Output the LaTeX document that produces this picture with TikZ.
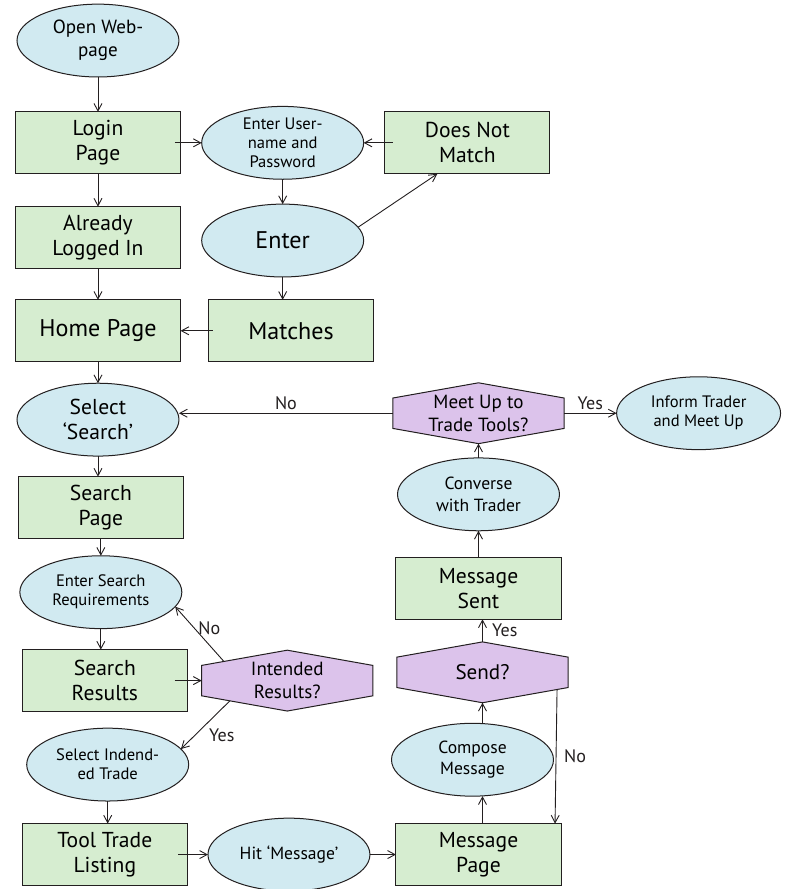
\documentclass[tikz,border=0pt]{standalone}
\usepackage{fontspec}
\setmainfont{PT Sans}
\usetikzlibrary{arrows.meta,positioning,shapes.geometric,backgrounds,calc}
\definecolor{ovalblue}{RGB}{209,234,241}
\definecolor{boxgreen}{RGB}{214,237,208}
\definecolor{hexpurple}{RGB}{220,195,235}
\definecolor{ink}{RGB}{35,31,32}

\begin{document}
\begin{tikzpicture}[
  node distance=0.75cm and 0.75cm,
  box/.style={
    rectangle, draw=ink, line width=1pt, fill=boxgreen, outer sep=0pt,
    minimum width=5.78cm, minimum height=2.17cm,
    align=center, font=\fontsize{21.5}{25}\selectfont
  },
  oval/.style={
    ellipse, draw=ink, line width=1pt, fill=ovalblue, outer sep=0pt,
    minimum width=5.67cm, minimum height=2.55cm, inner sep=0pt,
    align=center, font=\fontsize{16.5}{19}\selectfont
  },
  decision/.style={
    rectangle, outer sep=0pt, minimum width=5.99cm, minimum height=2.13cm,
    align=center, font=\fontsize{19}{23}\selectfont
  },
  hexa/.style={draw=ink, line width=1pt, fill=hexpurple},
  arrow/.style={-{Straight Barb[length=2.6mm,width=2.8mm]}, line width=0.9pt, draw=ink},
  answer/.style={font=\fontsize{18}{20}\selectfont, text=ink}
]

\useasboundingbox (-3.43,1.42) rectangle (24.15,-29.70);

% Left column: login and search
\node[oval, font=\fontsize{19}{23}\selectfont] (open) {Open Web-\\page};
\node[box, below=1.22cm of open] (login) {Login\\Page};
\node[box, below=1.15cm of login] (already) {Already\\Logged In};
\node[box, below=1.09cm of already, font=\fontsize{24}{28}\selectfont] (home) {Home Page};
\node[oval, below=0.75cm of home, font=\fontsize{21.5}{25}\selectfont] (selsearch) {Select\\`Search'};
\node[box, below=0.72cm of selsearch, xshift=0.1cm] (searchpage) {Search\\Page};
\node[oval, below=0.6cm of searchpage] (enterreq) {Enter Search\\Requirements};
\node[box, below=0.735cm of enterreq, xshift=0.14cm] (results) {Search\\Results};
\node[oval, below=0.58cm of results, xshift=0.1cm] (selitem) {Select Indend-\\ed Trade};
\node[box, below=0.79cm of selitem, xshift=-0.1cm] (tooltrade) {Tool Trade\\Listing};

% Credentials check
\node[oval, right=0.74cm of login] (enteruser) {Enter User-\\name and\\Password};
\node[box, right=0.74cm of enteruser] (nomatch) {Does Not\\Match};
\node[oval, below=0.87cm of enteruser, font=\fontsize{24}{28}\selectfont] (enter) {Enter};
\node[box, right=0.98cm of home, font=\fontsize{24}{28}\selectfont] (matches) {Matches};

% Results check and bottom row
\node[decision, right=0.5cm of results] (intended) {Intended\\Results?};
\node[oval, right=0.72cm of tooltrade, font=\fontsize{17.5}{21}\selectfont] (hitmsg) {Hit `Message'};
\node[box, right=0.91cm of hitmsg] (msgpage) {Message\\Page};

% Right column, going up
\node[oval, above=0.96cm of msgpage, xshift=-0.21cm, font=\fontsize{17.5}{21}\selectfont] (compose) {Compose\\Message};
\node[decision, above=0.72cm of compose, xshift=0.35cm, font=\fontsize{21}{25}\selectfont] (send) {Send?};
\node[box, above=0.79cm of send, xshift=-0.14cm] (msgsent) {Message\\Sent};
\node[oval, above=0.93cm of msgsent, font=\fontsize{17.5}{21}\selectfont] (converse) {Converse\\with Trader};
\node[decision, above=0.5cm of converse] (meetup) {Meet Up to\\Trade Tools?};
\node[oval, right=1.84cm of meetup, minimum width=5.74cm] (inform) {Inform Trader\\and Meet Up};

% Hexagons behind the decision texts
\begin{scope}[on background layer]
  \foreach \d in {meetup,intended,send} {
    \draw[hexa] ($(\d.north west)!0.25!(\d.south west)$) -- (\d.north)
      -- ($(\d.north east)!0.25!(\d.south east)$)
      -- ($(\d.south east)!0.25!(\d.north east)$) -- (\d.south)
      -- ($(\d.south west)!0.25!(\d.north west)$) -- cycle;
  }
\end{scope}

% Arrows
\draw[arrow] (open) -- (login);
\draw[arrow] ([xshift=-0.2cm]login.east) -- (enteruser);
\draw[arrow] ([xshift=0.28cm]nomatch.west) -- (enteruser);
\draw[arrow] (enteruser) -- (enter);
\draw[arrow] (enter.10) -- ([xshift=-1.05cm]nomatch.south);
\draw[arrow] (enter) -- (enter |- matches.north);
\draw[arrow] ([xshift=0.14cm]matches.west) -- (home);
\draw[arrow] (login) -- (already);
\draw[arrow] (already) -- (home);
\draw[arrow] (home) -- (selsearch);
\draw[arrow] (selsearch) -- (selsearch |- searchpage.north);
\draw[arrow] (searchpage) -- (searchpage |- enterreq.north);
\draw[arrow] (enterreq) -- (enterreq |- results.north);
\draw[arrow] ([xshift=-0.45cm]results.east) -- (intended);
\draw[arrow] ([xshift=0.77cm,yshift=-0.385cm]intended.north west) -- (enterreq.-11)
  node[pos=0.6, right, answer] {No};
\draw[arrow] ([xshift=0.98cm,yshift=0.35cm]intended.south west) -- (selitem.12)
  node[midway, below right, answer] {Yes};
\draw[arrow] (selitem) -- (selitem |- tooltrade.north);
\draw[arrow] ([xshift=-0.32cm]tooltrade.east) -- (hitmsg);
\draw[arrow] (hitmsg) -- (msgpage);
\draw[arrow] (msgpage.north -| send) -- (compose.south -| send);
\draw[arrow] (compose.north -| send) -- (send);
\draw[arrow] (send) -- (send |- msgsent.south) node[midway, right=0.2cm, answer] {Yes};
\draw[arrow] ([xshift=-0.385cm,yshift=0.455cm]send.south east) -- ([xshift=-0.21cm]msgpage.north east)
  node[midway, right=0.15cm, answer] {No};
\draw[arrow] (msgsent) -- (converse);
\draw[arrow] (converse) -- (meetup);
\draw[arrow] (meetup) -- (meetup -| selsearch.east) node[midway, above, answer] {No};
\draw[arrow] (meetup) -- (inform) node[midway, above, answer] {Yes};

\end{tikzpicture}
\end{document}
